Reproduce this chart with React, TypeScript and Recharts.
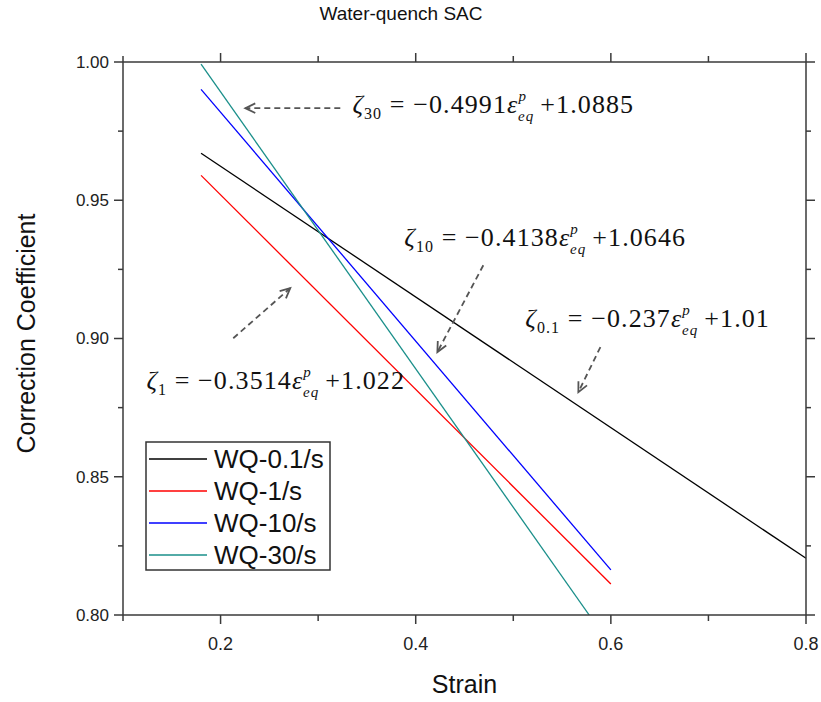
import React from 'react';
import { LineChart, Line, XAxis, YAxis, ReferenceLine, ReferenceDot, Customized } from 'recharts';

const AXIS = '#3a3a3a';
const SANS = "'Liberation Sans', Arial, sans-serif";
const SERIF = "'Liberation Serif', 'Times New Roman', serif";

const chartTitle = 'Water-quench SAC';
const xTitle = 'Strain';
const yTitle = 'Correction Coefficient';

const xTicks = [0.1, 0.2, 0.3, 0.4, 0.5, 0.6, 0.7, 0.8];
const yTicks = [0.8, 0.825, 0.85, 0.875, 0.9, 0.925, 0.95, 0.975, 1.0];

const seriesNames = ['WQ-0.1/s', 'WQ-1/s', 'WQ-10/s', 'WQ-30/s'];
const seriesColors = ['#000000', '#ff0000', '#0000ff', '#1a8f8a'];

const wq01 = [{ x: 0.18, y: 0.967 }, { x: 0.8, y: 0.8205 }];
const wq1 = [{ x: 0.18, y: 0.959 }, { x: 0.6, y: 0.8112 }];
const wq10 = [{ x: 0.18, y: 0.9901 }, { x: 0.6, y: 0.8163 }];
const wq30 = [{ x: 0.18, y: 0.9992 }, { x: 0.5778, y: 0.8 }];
const seriesData = [wq01, wq1, wq10, wq30];

// equation annotations: subscript, slope, intercept, anchor (data coords)
const eqSubs = ['30', '10', '0.1', '1'];
const eqSlopes = ['0.4991', '0.4138', '0.237', '0.3514'];
const eqIntercepts = ['1.0885', '1.0646', '1.01', '1.022'];
const eqX = [0.3351, 0.3883, 0.5123, 0.124];
const eqY = [0.9814, 0.9334, 0.9041, 0.8817];

// arrows: start -> end (arrowhead at end)
const arrowX1 = [0.3227, 0.4693, 0.5893, 0.213];
const arrowY1 = [0.9833, 0.9265, 0.8969, 0.9001];
const arrowX2 = [0.2254, 0.4222, 0.5667, 0.2714];
const arrowY2 = [0.9833, 0.8951, 0.8806, 0.9182];

const isMajorX = (v: number) => Math.round(v * 10) % 2 === 0;
const isMajorY = (v: number) => Math.round(v * 1000) % 50 === 0;

const BottomTick = (p: any) => {
  const { x, y, payload } = p;
  const major = isMajorX(payload.value);
  return (
    <g>
      <line x1={x} x2={x} y1={y} y2={y + (major ? 9 : 6)} stroke={AXIS} strokeWidth={1.5} />
      {major && (
        <text x={x} y={y + 35} textAnchor="middle" fontSize={18} fontFamily={SANS} fill="#222">
          {payload.value.toFixed(1)}
        </text>
      )}
    </g>
  );
};
const TopTick = (p: any) => {
  const { x, y, payload } = p;
  const major = isMajorX(payload.value);
  return <line x1={x} x2={x} y1={y} y2={y - (major ? 9 : 6)} stroke={AXIS} strokeWidth={1.5} />;
};
const LeftTick = (p: any) => {
  const { x, y, payload } = p;
  const major = isMajorY(payload.value);
  return (
    <g>
      <line x1={x} x2={x - (major ? 9 : 5)} y1={y} y2={y} stroke={AXIS} strokeWidth={1.5} />
      {major && (
        <text x={x - 14} y={y} dy="0.35em" textAnchor="end" fontSize={17} fontFamily={SANS} fill="#222">
          {payload.value.toFixed(2)}
        </text>
      )}
    </g>
  );
};
const RightTick = (p: any) => {
  const { x, y, payload } = p;
  const major = isMajorY(payload.value);
  return <line x1={x} x2={x + (major ? 9 : 5)} y1={y} y2={y} stroke={AXIS} strokeWidth={1.5} />;
};

const Arrow = (p: any) => {
  const { x1, y1, x2, y2 } = p;
  const a = Math.atan2(y2 - y1, x2 - x1);
  const L = 11;
  const s = Math.PI / 7;
  const ax = x2 - L * Math.cos(a - s);
  const ay = y2 - L * Math.sin(a - s);
  const bx = x2 - L * Math.cos(a + s);
  const by = y2 - L * Math.sin(a + s);
  return (
    <g>
      <line x1={x1} y1={y1} x2={x2} y2={y2} stroke="#555" strokeWidth={1.8} strokeDasharray="6 4" />
      <polyline points={`${ax},${ay} ${x2},${y2} ${bx},${by}`} fill="none" stroke="#555" strokeWidth={1.8} />
    </g>
  );
};

const makeEq = (i: number) => (p: any) => {
  const { cx, cy } = p;
  return (
    <text x={cx} y={cy} fontFamily={SERIF} fontSize={26} fill="#111" letterSpacing={1.1}>
      <tspan fontStyle="italic">ζ</tspan>
      <tspan fontSize={16} dy={6}>{eqSubs[i]}</tspan>
      <tspan dy={-6}>{` = −${eqSlopes[i]}`}</tspan>
      <tspan fontStyle="italic">ε</tspan>
      <tspan fontStyle="italic" fontSize={15} dy={-12}>p</tspan>
      <tspan fontStyle="italic" fontSize={15} dx={-9} dy={20}>eq</tspan>
      <tspan dx={6} dy={-8}>{`+${eqIntercepts[i]}`}</tspan>
    </text>
  );
};

const Title = () => (
  <text x={401} y={20} textAnchor="middle" fontSize={19} fontFamily={SANS} fill="#111">
    {chartTitle}
  </text>
);

const LegendBox = () => {
  const left = 146;
  const top = 442;
  const rowH = 32;
  return (
    <g>
      <rect x={left} y={top} width={184} height={128} fill="#fff" stroke="#333" strokeWidth={1.5} />
      {seriesNames.map((n, i) => (
        <g key={n}>
          <line x1={left + 3} x2={left + 61} y1={top + 17 + i * rowH} y2={top + 17 + i * rowH} stroke={seriesColors[i]} strokeWidth={1.5} />
          <text x={left + 68} y={top + 17 + i * rowH} dy="0.35em" fontSize={26} fontFamily={SANS} fill="#111">
            {n}
          </text>
        </g>
      ))}
    </g>
  );
};

export default function App() {
  return (
    <div style={{ position: 'absolute', left: 0, top: 0 }}>
      <LineChart width={821} height={702} margin={{ top: 61, right: 14, bottom: 0, left: 0 }}>
        <XAxis
          xAxisId={0}
          type="number"
          dataKey="x"
          domain={[0.1, 0.8]}
          ticks={xTicks}
          interval={0}
          tickSize={0}
          tickMargin={0}
          tickLine={false}
          tick={<BottomTick />}
          height={87}
          axisLine={{ stroke: AXIS, strokeWidth: 1.5 }}
          allowDataOverflow
          label={{
            content: (lp: any) => {
              const vb = lp.viewBox;
              return (
                <text x={vb.x + vb.width / 2} y={vb.y + 78} textAnchor="middle" fontSize={25} fontFamily={SANS} fill="#111">
                  {xTitle}
                </text>
              );
            },
          }}
        />
        <XAxis
          xAxisId="top"
          orientation="top"
          type="number"
          dataKey="x"
          domain={[0.1, 0.8]}
          ticks={xTicks}
          interval={0}
          tickSize={0}
          tickMargin={0}
          tickLine={false}
          tick={<TopTick />}
          height={1}
          axisLine={{ stroke: AXIS, strokeWidth: 1.5 }}
          allowDataOverflow
        />
        <YAxis
          yAxisId={0}
          type="number"
          domain={[0.8, 1.0]}
          ticks={yTicks}
          interval={0}
          tickSize={0}
          tickMargin={0}
          tickLine={false}
          tick={<LeftTick />}
          width={123}
          axisLine={{ stroke: AXIS, strokeWidth: 1.5 }}
          allowDataOverflow
          label={{
            content: (lp: any) => {
              const vb = lp.viewBox;
              const cx = vb.x + 26;
              const cy = vb.y + vb.height / 2 - 5;
              return (
                <text x={cx} y={cy} transform={`rotate(-90 ${cx} ${cy})`} textAnchor="middle" dy="0.35em" fontSize={25} fontFamily={SANS} fill="#111">
                  {yTitle}
                </text>
              );
            },
          }}
        />
        <YAxis
          yAxisId="right"
          orientation="right"
          type="number"
          domain={[0.8, 1.0]}
          ticks={yTicks}
          interval={0}
          tickSize={0}
          tickMargin={0}
          tickLine={false}
          tick={<RightTick />}
          width={1}
          axisLine={{ stroke: AXIS, strokeWidth: 1.5 }}
          allowDataOverflow
        />
        {seriesData.map((d, i) => (
          <Line
            key={seriesNames[i]}
            data={d}
            dataKey="y"
            name={seriesNames[i]}
            xAxisId={0}
            yAxisId={0}
            stroke={seriesColors[i]}
            strokeWidth={1.3}
            dot={false}
            isAnimationActive={false}
          />
        ))}
        {arrowX1.map((_, i) => (
          <ReferenceLine
            key={'a' + i}
            xAxisId={0}
            yAxisId={0}
            segment={[
              { x: arrowX1[i], y: arrowY1[i] },
              { x: arrowX2[i], y: arrowY2[i] },
            ]}
            shape={(p: any) => <Arrow {...p} />}
            ifOverflow="visible"
          />
        ))}
        {eqX.map((_, i) => (
          <ReferenceDot key={'e' + i} xAxisId={0} yAxisId={0} x={eqX[i]} y={eqY[i]} shape={makeEq(i)} ifOverflow="visible" />
        ))}
        <Customized component={Title} />
        <Customized component={LegendBox} />
      </LineChart>
    </div>
  );
}
